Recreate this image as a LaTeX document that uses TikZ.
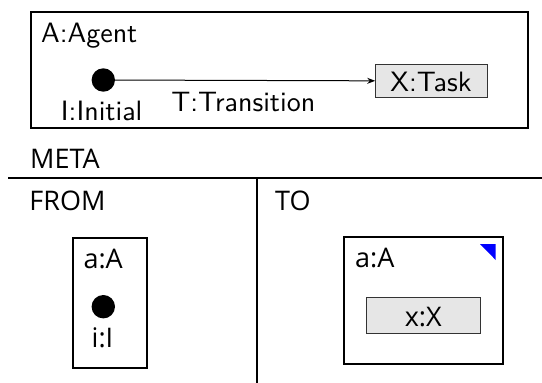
\documentclass[tikz,border=0pt]{standalone}
\usepackage{fontspec}
\newfontfamily\lmsf{lmsans10-regular}[Extension=.otf]
\newfontfamily\osans{Open Sans}
\usetikzlibrary{arrows.meta}
\definecolor{boxgray}{HTML}{E6E6E6}
\tikzset{
  toptext/.style={font=\lmsf\fontsize{28}{32}\selectfont, inner sep=0pt},
  bottext/.style={font=\osans\fontsize{27}{31}\selectfont, inner sep=0pt},
  frame/.style={draw, line width=2pt, inner sep=0pt},
  graybox/.style={draw=black!80, line width=1pt, fill=boxgray, inner sep=0pt},
  dot/.style={circle, fill=black, inner sep=0pt, minimum size=23.4pt},
  rule/.style={line width=2pt}
}
\begin{document}
\begin{tikzpicture}[x=1pt, y=-1pt]
\useasboundingbox (0,0) rectangle (542,383);
% top part
\node[frame, minimum width=497pt, minimum height=116.6pt] (agent) at (279.5,70) {};
\node[toptext, anchor=base west] (agentlbl) at (41,42) {A:Agent};
\node[dot] (init) at (103.3,80) {};
\node[toptext, anchor=base] (initlbl) at (101.7,120) {I:Initial};
\node[graybox, minimum width=111.6pt, minimum height=32.3pt] (task) at (431.5,81) {};
\node[toptext, anchor=base] (tasklbl) at (431,91.7) {X:Task};
\draw[line width=1pt, -{Stealth[length=8pt,width=6pt]}] (init) -- (task);
\node[toptext, anchor=base] (translbl) at (243.3,111.7) {T:Transition};
% meta
\node[bottext, anchor=base west] (meta) at (30,168.3) {META};
\coordinate (hl) at (8.3,178.3);
\coordinate (hr) at (542,178.3);
\coordinate (vt) at (257.3,178.3);
\coordinate (vb) at (257.3,383);
\draw[rule] (hl) -- (hr);
\draw[rule] (vt) -- (vb);
\node[bottext, anchor=base west] (from) at (29.3,210.7) {FROM};
\node[bottext, anchor=base west] (to) at (275,210.7) {TO};
% from box
\node[frame, minimum width=73.4pt, minimum height=130.6pt] (fa) at (110,303) {};
\node[bottext, anchor=base west] (falbl) at (83.3,268.3) {a:A};
\node[dot] (fi) at (103.3,306.7) {};
\node[bottext, anchor=base] (filbl) at (102.5,347.3) {i:I};
% to box
\node[frame, minimum width=158.4pt, minimum height=127.3pt] (ta) at (423.5,300.3) {};
\node[bottext, anchor=base west] (talbl) at (355,267.7) {a:A};
\fill[blue] (480,244) -- (495.7,244) -- (495.7,260) -- cycle;
\node[graybox, minimum width=114pt, minimum height=35.6pt] (tx) at (423.7,315.5) {};
\node[bottext, anchor=base] (txlbl) at (423.3,326) {x:X};
\end{tikzpicture}
\end{document}
